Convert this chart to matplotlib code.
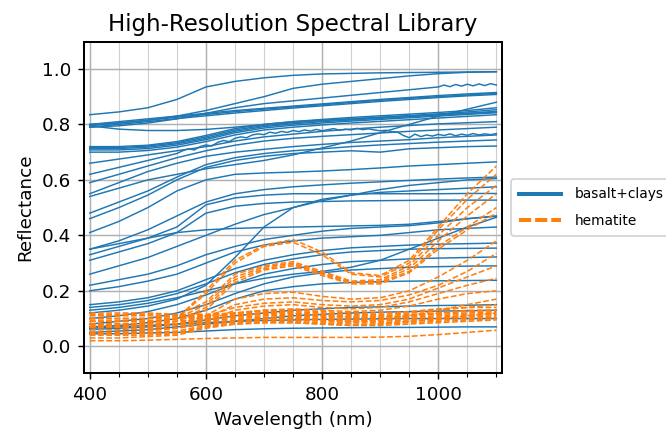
import numpy as np
import matplotlib
matplotlib.use("Agg")
import matplotlib.pyplot as plt
from matplotlib.lines import Line2D
from matplotlib.ticker import MultipleLocator

wavelength = [400, 450, 500, 550, 600, 650, 700, 750, 800, 850, 900, 950, 1000, 1050, 1100]
wavelength_fine = list(range(400, 1101, 10))
wavelength_tail = [400, 450, 500, 550, 600, 650, 700, 750, 800, 850, 900, 950, 1000,
                   1010, 1020, 1030, 1040, 1050, 1060, 1070, 1080, 1090, 1100]

basalt_clays = [
    [0.835,0.845,0.86,0.89,0.935,0.955,0.968,0.977,0.982,0.984,0.986,0.987,0.988,0.989,0.99],
    [0.80,0.805,0.815,0.83,0.85,0.875,0.90,0.93,0.945,0.955,0.965,0.975,0.983,0.988,0.99],
    [0.80,0.81,0.82,0.83,0.84,0.85,0.858,0.866,0.874,0.882,0.89,0.897,0.904,0.91,0.915],
    [0.795,0.805,0.815,0.826,0.836,0.846,0.855,0.863,0.871,0.879,0.887,0.894,0.90,0.906,0.912],
    [0.79,0.80,0.81,0.821,0.831,0.841,0.85,0.859,0.867,0.875,0.883,0.89,0.897,0.903,0.908],
    [0.54,0.57,0.60,0.62,0.64,0.655,0.67,0.69,0.715,0.74,0.77,0.80,0.83,0.855,0.88],
    [0.72,0.72,0.725,0.738,0.76,0.785,0.80,0.81,0.818,0.825,0.831,0.837,0.843,0.85,0.86],
    [0.717,0.717,0.722,0.734,0.755,0.78,0.796,0.806,0.814,0.82,0.826,0.832,0.838,0.845,0.853],
    [0.713,0.713,0.718,0.73,0.75,0.775,0.792,0.802,0.81,0.816,0.822,0.828,0.834,0.84,0.847],
    [0.708,0.708,0.713,0.725,0.745,0.77,0.787,0.797,0.805,0.812,0.818,0.824,0.83,0.836,0.842],
    [0.70,0.70,0.706,0.718,0.738,0.762,0.78,0.79,0.798,0.805,0.811,0.817,0.823,0.829,0.835],
    [0.795,0.783,0.778,0.778,0.782,0.79,0.80,0.81,0.815,0.82,0.825,0.83,0.835,0.84,0.845],
    [0.66,0.675,0.69,0.705,0.72,0.74,0.755,0.765,0.775,0.783,0.79,0.796,0.802,0.806,0.81],
    [0.59,0.62,0.65,0.68,0.705,0.725,0.74,0.75,0.757,0.763,0.769,0.775,0.78,0.785,0.79],
    [0.55,0.59,0.63,0.66,0.685,0.70,0.71,0.72,0.728,0.735,0.74,0.745,0.752,0.757,0.762],
    [0.48,0.52,0.56,0.61,0.655,0.68,0.695,0.705,0.712,0.72,0.726,0.731,0.736,0.74,0.744],
    [0.46,0.50,0.545,0.60,0.645,0.67,0.685,0.695,0.70,0.705,0.70,0.712,0.716,0.72,0.722],
    [0.41,0.45,0.50,0.56,0.60,0.62,0.625,0.628,0.632,0.637,0.643,0.65,0.655,0.66,0.665],
    [0.35,0.38,0.42,0.47,0.52,0.55,0.565,0.575,0.582,0.588,0.593,0.598,0.603,0.607,0.61],
    [0.33,0.36,0.39,0.43,0.51,0.535,0.545,0.55,0.55,0.55,0.55,0.55,0.55,0.551,0.551],
    [0.31,0.34,0.37,0.41,0.48,0.505,0.515,0.52,0.522,0.524,0.525,0.526,0.527,0.527,0.527],
    [0.26,0.29,0.32,0.36,0.40,0.44,0.475,0.50,0.525,0.545,0.565,0.58,0.59,0.60,0.605],
    [0.22,0.24,0.26,0.29,0.33,0.36,0.385,0.40,0.415,0.425,0.43,0.435,0.445,0.46,0.469],
    [0.20,0.215,0.235,0.26,0.30,0.34,0.365,0.38,0.39,0.395,0.40,0.41,0.42,0.425,0.43],
    [0.15,0.16,0.175,0.20,0.24,0.28,0.31,0.33,0.345,0.355,0.36,0.365,0.368,0.37,0.372],
    [0.14,0.15,0.165,0.19,0.225,0.265,0.295,0.315,0.33,0.34,0.345,0.35,0.352,0.353,0.354],
    [0.10,0.11,0.125,0.15,0.185,0.225,0.26,0.28,0.295,0.305,0.31,0.315,0.318,0.32,0.322],
    [0.08,0.09,0.10,0.12,0.15,0.19,0.225,0.25,0.265,0.275,0.28,0.285,0.287,0.289,0.29],
    [0.07,0.075,0.085,0.10,0.13,0.17,0.20,0.215,0.225,0.23,0.233,0.235,0.236,0.237,0.238],
    [0.06,0.065,0.07,0.08,0.095,0.11,0.12,0.13,0.135,0.14,0.142,0.145,0.147,0.148,0.15],
    [0.05,0.055,0.06,0.07,0.08,0.09,0.10,0.11,0.115,0.12,0.123,0.125,0.127,0.128,0.13],
    [0.045,0.045,0.048,0.05,0.055,0.06,0.063,0.065,0.066,0.067,0.068,0.068,0.069,0.07,0.07],
    [0.35,0.37,0.39,0.41,0.42,0.425,0.428,0.43,0.432,0.434,0.436,0.44,0.45,0.46,0.47],
    [0.065,0.07,0.075,0.08,0.085,0.09,0.093,0.095,0.097,0.098,0.099,0.10,0.10,0.10,0.10],
    [0.12,0.13,0.145,0.17,0.22,0.32,0.43,0.50,0.53,0.545,0.555,0.56,0.565,0.57,0.575],
    [0.13,0.14,0.155,0.175,0.20,0.225,0.245,0.26,0.27,0.285,0.31,0.35,0.39,0.43,0.465],
]

# noisy basalt spectrum sampled every 10 nm
basalt_noisy_fine = [
    0.62,0.625,0.63,0.635,0.64,0.645,0.65,0.655,0.66,0.665,0.67,0.675,0.68,0.685,0.69,0.695,
    0.705,0.712,0.708,0.72,0.726,0.722,0.735,0.742,0.738,0.75,0.755,0.752,0.762,0.766,0.763,
    0.772,0.768,0.775,0.771,0.778,0.774,0.78,0.776,0.782,0.777,0.781,0.785,0.779,0.783,0.78,
    0.786,0.781,0.784,0.78,0.777,0.779,0.774,0.772,
    0.76,0.752,0.765,0.756,0.762,0.758,0.764,0.76,0.766,0.759,0.765,0.761,0.767,0.762,0.766,0.763,0.767,
]
# basalt spectrum with noisy tail beyond 1000 nm
basalt_noisy_tail = [0.79,0.795,0.805,0.82,0.84,0.86,0.875,0.885,0.895,0.905,0.915,0.925,0.935,
                     0.942,0.936,0.944,0.938,0.945,0.939,0.946,0.94,0.947,0.942]

hematite = [
    [0.09,0.09,0.09,0.10,0.20,0.31,0.365,0.385,0.34,0.265,0.255,0.31,0.43,0.55,0.65],
    [0.08,0.08,0.085,0.10,0.19,0.30,0.36,0.375,0.33,0.26,0.25,0.30,0.42,0.53,0.62],
    [0.10,0.10,0.10,0.11,0.16,0.26,0.29,0.305,0.27,0.235,0.24,0.29,0.40,0.50,0.58],
    [0.09,0.09,0.09,0.10,0.15,0.25,0.285,0.30,0.265,0.232,0.235,0.28,0.38,0.47,0.55],
    [0.08,0.08,0.08,0.09,0.14,0.24,0.28,0.295,0.26,0.228,0.23,0.27,0.36,0.43,0.50],
    [0.07,0.07,0.075,0.09,0.13,0.23,0.275,0.29,0.255,0.225,0.225,0.265,0.35,0.42,0.48],
    [0.07,0.07,0.07,0.08,0.11,0.17,0.19,0.195,0.18,0.17,0.175,0.20,0.25,0.31,0.38],
    [0.06,0.06,0.065,0.075,0.10,0.15,0.17,0.175,0.165,0.16,0.165,0.185,0.22,0.27,0.335],
    [0.10,0.10,0.10,0.10,0.11,0.14,0.155,0.16,0.15,0.145,0.15,0.17,0.21,0.25,0.29],
    [0.05,0.05,0.055,0.065,0.09,0.13,0.145,0.15,0.14,0.135,0.14,0.16,0.19,0.22,0.245],
    [0.09,0.09,0.09,0.09,0.10,0.12,0.13,0.135,0.13,0.125,0.13,0.145,0.17,0.19,0.20],
    [0.12,0.12,0.12,0.115,0.115,0.12,0.125,0.125,0.12,0.115,0.115,0.12,0.13,0.14,0.15],
    [0.11,0.11,0.11,0.105,0.105,0.115,0.12,0.12,0.115,0.11,0.11,0.115,0.12,0.125,0.13],
    [0.10,0.10,0.10,0.10,0.10,0.11,0.115,0.115,0.11,0.105,0.105,0.11,0.115,0.12,0.125],
    [0.09,0.09,0.09,0.09,0.095,0.105,0.11,0.11,0.105,0.10,0.10,0.105,0.11,0.115,0.12],
    [0.08,0.08,0.08,0.08,0.09,0.10,0.105,0.105,0.10,0.095,0.095,0.10,0.105,0.11,0.115],
    [0.07,0.07,0.07,0.075,0.085,0.095,0.10,0.10,0.095,0.09,0.09,0.095,0.10,0.105,0.11],
    [0.06,0.06,0.06,0.065,0.08,0.09,0.095,0.095,0.09,0.085,0.085,0.09,0.095,0.10,0.105],
    [0.05,0.05,0.05,0.055,0.075,0.085,0.09,0.09,0.085,0.08,0.08,0.085,0.09,0.095,0.10],
    [0.04,0.04,0.04,0.045,0.07,0.08,0.085,0.085,0.08,0.075,0.075,0.08,0.085,0.09,0.095],
    [0.03,0.03,0.035,0.04,0.065,0.08,0.085,0.085,0.08,0.075,0.08,0.09,0.10,0.11,0.12],
    [0.02,0.02,0.022,0.025,0.028,0.03,0.032,0.032,0.032,0.032,0.033,0.036,0.042,0.05,0.058],
    [0.115,0.115,0.115,0.11,0.11,0.12,0.13,0.13,0.125,0.12,0.12,0.125,0.135,0.14,0.14],
    [0.075,0.075,0.075,0.08,0.09,0.11,0.12,0.12,0.11,0.105,0.105,0.11,0.12,0.13,0.13],
    [0.045,0.045,0.045,0.05,0.07,0.09,0.10,0.10,0.095,0.09,0.095,0.11,0.13,0.15,0.17],
]

DPI = 132
fig = plt.figure(figsize=(666 / DPI, 438 / DPI), dpi=DPI)
ax = fig.add_axes([0.126, 0.148, 0.628, 0.756])

blue = "#1f77b4"
orange = "#ff7f0e"
for spec in basalt_clays:
    ax.plot(wavelength, spec, color=blue, lw=0.8, zorder=3)
ax.plot(wavelength_fine, basalt_noisy_fine, color=blue, lw=0.8, zorder=3)
ax.plot(wavelength_tail, basalt_noisy_tail, color=blue, lw=0.8, zorder=3)
for spec in hematite:
    ax.plot(wavelength, spec, color=orange, lw=0.85, ls="--", zorder=4)

ax.set_xlim(390, 1110)
ax.set_ylim(-0.097, 1.097)
ax.xaxis.set_major_locator(MultipleLocator(200))
ax.xaxis.set_minor_locator(MultipleLocator(50))
ax.yaxis.set_major_locator(MultipleLocator(0.2))
ax.grid(True, which="major", color="#b0b0b0", lw=0.8, zorder=0)
ax.grid(True, which="minor", axis="x", color="#d0d0d0", lw=0.6, zorder=0)
ax.set_axisbelow(True)
for s in ax.spines.values():
    s.set_linewidth(1.1)

ax.set_title("High-Resolution Spectral Library", fontsize=12.5)
ax.set_xlabel("Wavelength (nm)", fontsize=10)
ax.set_ylabel("Reflectance", fontsize=10)
ax.tick_params(labelsize=10)

handles = [Line2D([0], [0], color=blue, lw=2.2),
           Line2D([0], [0], color=orange, lw=2.2, ls=(0, (3.0, 1.0)))]
ax.legend(handles, ["basalt+clays", "hematite"], loc="center left",
          bbox_to_anchor=(1.005, 0.5), fontsize=7.5, handlelength=3.0,
          handletextpad=1.0, labelspacing=0.9, borderpad=0.6)

fig.savefig("out.png", dpi=DPI)
